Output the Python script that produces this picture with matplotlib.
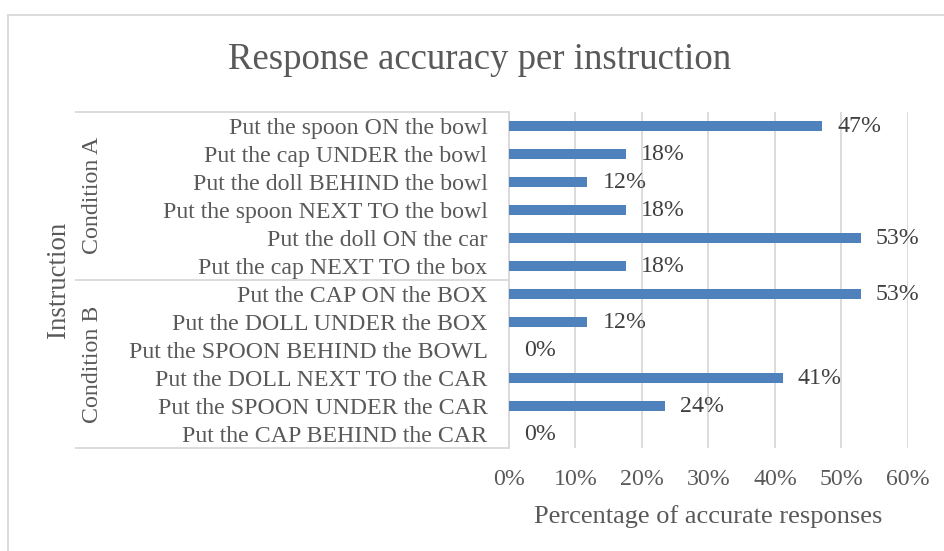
import matplotlib
matplotlib.use("Agg")
import matplotlib.pyplot as plt
from matplotlib.lines import Line2D

plt.rcParams['font.family'] = ['Liberation Serif', 'DejaVu Serif']

# ---- data ----
instructions = [
    "Put the spoon ON the bowl",
    "Put the cap UNDER the bowl",
    "Put the doll BEHIND the bowl",
    "Put the spoon NEXT TO the bowl",
    "Put the doll ON the car",
    "Put the cap NEXT TO the box",
    "Put the CAP ON the BOX",
    "Put the DOLL UNDER the BOX",
    "Put the SPOON BEHIND the BOWL",
    "Put the DOLL NEXT TO the CAR",
    "Put the SPOON UNDER the CAR",
    "Put the CAP BEHIND the CAR",
]
accuracy = [47.1, 17.6, 11.8, 17.6, 52.9, 17.6, 52.9, 11.8, 0.0, 41.2, 23.5, 0.0]
groups = ["Condition A", "Condition B"]
group_sizes = [6, 6]
xticks = [0, 10, 20, 30, 40, 50, 60]
xticklabels = ["0%", "10%", "20%", "30%", "40%", "50%", "60%"]

W, H = 944, 551
fig = plt.figure(figsize=(W / 100, H / 100), dpi=100)
fig.patch.set_facecolor("white")

TXT = "#595959"
LAB = "#404040"
GRID = "#D9D9D9"
BAR = "#4F81BD"
FS = 17.2

# axes placement (pixels)
x0, x1 = 509, 908
ytop, ybot = 111.7, 448
ax = fig.add_axes([x0 / W, 1 - ybot / H, (x1 - x0) / W, (ybot - ytop) / H])

n = len(instructions)
pos = list(range(n - 1, -1, -1))
ax.barh(pos, accuracy, height=0.36, color=BAR, zorder=3)
ax.set_ylim(-0.5, n - 0.5)
ax.set_xlim(0, 60)

ax.set_xticks(xticks)
ax.set_xticklabels(xticklabels)
ax.set_yticks(pos)
ax.set_yticklabels(instructions)
ax.tick_params(axis='y', length=0, pad=15.5, labelsize=FS, labelcolor=TXT)
ax.tick_params(axis='x', length=0, pad=15, labelsize=FS, labelcolor=TXT)

ax.grid(axis='x', color=GRID, linewidth=1.3, zorder=0)
for s in ["top", "right", "bottom"]:
    ax.spines[s].set_visible(False)
ax.spines["left"].set_color(GRID)
ax.spines["left"].set_linewidth(1.3)

for p, v in zip(pos, accuracy):
    ax.annotate(f"{v:.0f}%", xy=(v, p), xytext=(15, -1), textcoords='offset pixels',
                ha='left', va='center', fontsize=FS, color=LAB)

fig.text(708.5 / W, 1 - 522.7 / H, "Percentage of accurate responses", ha='center',
         va='baseline', fontsize=19, color=TXT)

# group boxes
tr = fig.transFigure
boundaries = [ytop, ytop + (ybot - ytop) * group_sizes[0] / n, ybot]
for yb in boundaries:
    fig.add_artist(Line2D([76 / W, 508 / W], [1 - yb / H, 1 - yb / H], color=GRID,
                          linewidth=1.3, transform=tr))
for g, (ya, yb) in zip(groups, zip(boundaries[:-1], boundaries[1:])):
    fig.text(92 / W, 1 - (ya + yb) / 2 / H, g, rotation=90, ha='center', va='center',
             fontsize=FS, color=TXT)

fig.text(58 / W, 1 - 279.5 / H, "Instruction", rotation=90, ha='center', va='center',
         fontsize=19.3, color=TXT)

fig.text(480 / W, 1 - 69.3 / H, "Response accuracy per instruction", ha='center',
         va='baseline', fontsize=26.5, color=TXT)

# outer chart border
fig.add_artist(Line2D([8 / W, 1.01], [1 - 15 / H, 1 - 15 / H], color=GRID, linewidth=1.3, transform=tr))
fig.add_artist(Line2D([8 / W, 8 / W], [1 - 15 / H, -0.01], color=GRID, linewidth=1.3, transform=tr))

fig.savefig("out.png", dpi=100, facecolor="white")
